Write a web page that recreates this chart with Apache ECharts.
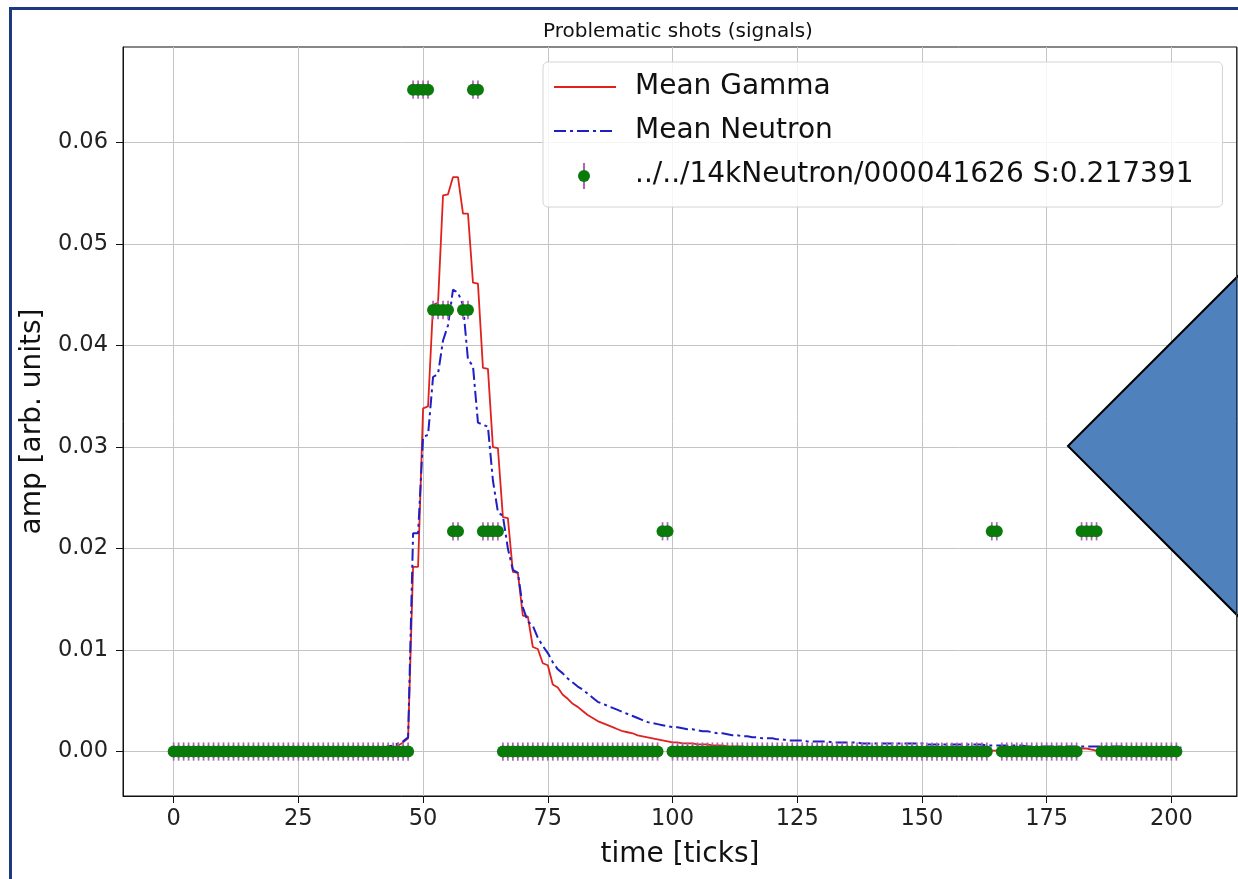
<!DOCTYPE html>
<html><head><meta charset="utf-8">
<script src="https://cdn.jsdelivr.net/npm/echarts@6/dist/echarts.min.js"></script>
<style>html,body{margin:0;padding:0;background:#fff}#c{width:1238px;height:879px}</style>
</head><body><div id="c"></div>
<script>
const chartTitle = 'Problematic shots (signals)';
const xAxisName = 'time [ticks]';
const yAxisName = 'amp [arb. units]';
const gammaName = 'Mean Gamma';
const neutronName = 'Mean Neutron';
const shotName = '../../14kNeutron/000041626 S:0.217391';
const xTickValues = [0, 25, 50, 75, 100, 125, 150, 175, 200];
const yTickValues = [0, 0.01, 0.02, 0.03, 0.04, 0.05, 0.06];

// mean gamma signal, one value per tick 0..202
const gammaMean = [
  0,0,0,0,0,0,0,0,0,0,
  0,0,0,0,0,0,0,0,0,0,
  0,0,0,0,0,0,0,0,0,0,
  0,0,0,0,0,0,0.0001,0.0001,0.0001,0.0001,
  0.0002,0.0002,0.0003,0.0003,0.0004,0.0006,0.0009,0.0013,0.0182,0.0182,
  0.0338,0.0340,0.0440,0.0442,0.0548,0.0549,0.0566,0.0566,0.0530,0.0530,
  0.0462,0.0461,0.0378,0.0377,0.0300,0.0299,0.0231,0.0230,0.0177,0.0176,
  0.0134,0.0133,0.0103,0.0101,0.0087,0.0085,0.0066,0.0063,0.0056,0.0052,
  0.0047,0.0044,0.0040,0.0036,0.0033,0.0030,0.0028,0.0026,0.0024,0.0022,
  0.0020,0.0019,0.0018,0.0016,0.0015,0.0014,0.0013,0.0012,0.0011,0.0010,
  0.0009,0.0009,0.0008,0.0008,0.0008,0.0007,0.0007,0.0007,0.0006,0.0006,
  0.0006,0.0005,0.0005,0.0005,0.0005,0.0004,0.0004,0.0004,0.0004,0.0004,
  0.0003,0.0003,0.0003,0.0003,0.0003,0.0003,0.0003,0.0003,0.0003,0.0003,
  0.0003,0.0003,0.0002,0.0002,0.0002,0.0002,0.0002,0.0002,0.0002,0.0002,
  0.0002,0.0002,0.0002,0.0002,0.0002,0.0002,0.0002,0.0002,0.0002,0.0002,
  0.0002,0.0002,0.0002,0.0002,0.0002,0.0002,0.0002,0.0002,0.0002,0.0002,
  0.0002,0.0002,0.0001,0.0001,0.0001,0.0001,0.0001,0.0001,0.0001,0.0001,
  0.0001,0.0001,0.0001,0.0001,0.0001,0.0001,0.0001,0.0001,0.0001,0.0001,
  0.0001,0.0002,0.0003,0.0003,0.0002,0.0001,0.0001,0.0001,0.0001,0.0001,
  0.0001,0.0001,0.0001,0.0001,0.0001,0.0001,0.0001,0.0001,0.0001,0.0001,
  0.0001,0.0001,0.0001
];

// mean neutron signal, one value per tick 0..202
const neutronMean = [
  0,0,0,0,0,0,0,0,0,0,
  0,0,0,0,0,0,0,0,0,0,
  0,0,0,0,0,0,0,0,0,0,
  0,0,0,0.0001,0.0001,0.0001,0.0001,0.0001,0.0002,0.0002,
  0.0002,0.0003,0.0004,0.0005,0.0006,0.0008,0.0010,0.0014,0.0215,0.0215,
  0.0310,0.0312,0.0369,0.0372,0.0405,0.0420,0.0455,0.0452,0.0440,0.0386,
  0.0380,0.0324,0.0322,0.0320,0.0267,0.0236,0.0232,0.0200,0.0179,0.0176,
  0.0142,0.0128,0.0124,0.0112,0.0104,0.0097,0.0088,0.0081,0.0077,0.0072,
  0.0068,0.0064,0.0061,0.0057,0.0053,0.0049,0.0047,0.0045,0.0043,0.0041,
  0.0039,0.0037,0.0035,0.0033,0.0031,0.0029,0.0028,0.0027,0.0026,0.0025,
  0.0024,0.0024,0.0023,0.0022,0.0022,0.0021,0.0020,0.0020,0.0019,0.0018,
  0.0018,0.0017,0.0016,0.0016,0.0015,0.0015,0.0014,0.0014,0.0013,0.0013,
  0.0013,0.0012,0.0012,0.0011,0.0011,0.0011,0.0011,0.0010,0.0010,0.0010,
  0.0010,0.0010,0.0009,0.0009,0.0009,0.0009,0.0009,0.0009,0.0008,0.0008,
  0.0008,0.0008,0.0008,0.0008,0.0008,0.0008,0.0008,0.0008,0.0008,0.0008,
  0.0008,0.0007,0.0007,0.0007,0.0007,0.0007,0.0007,0.0007,0.0007,0.0007,
  0.0007,0.0007,0.0007,0.0006,0.0006,0.0006,0.0006,0.0006,0.0006,0.0006,
  0.0006,0.0005,0.0005,0.0005,0.0005,0.0005,0.0005,0.0005,0.0005,0.0005,
  0.0005,0.0005,0.0005,0.0005,0.0005,0.0005,0.0005,0.0005,0.0005,0.0005,
  0.0005,0.0004,0.0004,0.0004,0.0004,0.0004,0.0004,0.0004,0.0004,0.0004,
  0.0004,0.0004,0.0004
];

// shot signal, one value per tick 0..201
const shotSignal = [
  0,0,0,0,0,0,0,0,0,0,
  0,0,0,0,0,0,0,0,0,0,
  0,0,0,0,0,0,0,0,0,0,
  0,0,0,0,0,0,0,0,0,0,
  0,0,0,0,0,0,0,0,0.0652,0.0652,
  0.0652,0.0652,0.0435,0.0435,0.0435,0.0435,0.0217,0.0217,0.0435,0.0435,
  0.0652,0.0652,0.0217,0.0217,0.0217,0.0217,0,0,0,0,
  0,0,0,0,0,0,0,0,0,0,
  0,0,0,0,0,0,0,0,0,0,
  0,0,0,0,0,0,0,0,0.0217,0.0217,
  0,0,0,0,0,0,0,0,0,0,
  0,0,0,0,0,0,0,0,0,0,
  0,0,0,0,0,0,0,0,0,0,
  0,0,0,0,0,0,0,0,0,0,
  0,0,0,0,0,0,0,0,0,0,
  0,0,0,0,0,0,0,0,0,0,
  0,0,0,0,0.0217,0.0217,0,0,0,0,
  0,0,0,0,0,0,0,0,0,0,
  0,0,0.0217,0.0217,0.0217,0.0217,0,0,0,0,
  0,0,0,0,0,0,0,0,0,0,
  0,0
];
const shotError = 0.0009;

const FONT = 'DejaVu Sans';
const RED = '#e0221f', BLUE = '#1f1fc4', GREEN = '#0a7a0a', ERR = '#b064b8';
const chart = echarts.init(document.getElementById('c'), null, {renderer: 'canvas'});

const axisCommon = {
  axisLine: {show: true, onZero: false, lineStyle: {color: '#111', width: 1}},
  axisTick: {show: true, inside: false, length: 7, lineStyle: {color: '#111', width: 1}},
  splitLine: {show: true, lineStyle: {color: '#c4c4c4', width: 1}},
  nameTextStyle: {fontFamily: FONT, fontSize: 28, color: '#111'},
};

chart.setOption({
  backgroundColor: '#fff',
  animation: false,
  title: {
    text: chartTitle, left: 538, top: 17,
    textStyle: {fontFamily: FONT, fontSize: 20, fontWeight: 'normal', color: '#111'}
  },
  grid: {left: 123, right: 1, top: 47, bottom: 83, show: true, borderColor: '#111', borderWidth: 1, containLabel: false},
  legend: {
    orient: 'vertical', left: 543, top: 62,
    data: [
      {name: gammaName, itemStyle: {opacity: 0}},
      {name: neutronName, itemStyle: {opacity: 0}},
      {name: shotName, itemStyle: {opacity: 0}}
    ],
    itemWidth: 62, itemHeight: 14, itemGap: 14,
    padding: [10, 29, 17, 10],
    backgroundColor: 'rgba(255,255,255,0.85)', borderColor: '#d4d4d4', borderWidth: 1, borderRadius: 5,
    textStyle: {fontFamily: FONT, fontSize: 28, color: '#111', lineHeight: 30, padding: [0, 0, 0, 14]}
  },
  xAxis: Object.assign({}, axisCommon, {
    type: 'value', min: -10.15, max: 213.15,
    name: xAxisName, nameLocation: 'middle', nameGap: 45,
    axisTick: Object.assign({}, axisCommon.axisTick, {customValues: xTickValues}),
    axisLabel: {customValues: xTickValues, fontFamily: FONT, fontSize: 22.5, color: '#222', margin: 12,
      formatter: v => String(v)}
  }),
  yAxis: Object.assign({}, axisCommon, {
    type: 'value', min: -0.00438, max: 0.06941,
    name: yAxisName, nameLocation: 'middle', nameGap: 66,
    axisTick: Object.assign({}, axisCommon.axisTick, {customValues: yTickValues}),
    axisLabel: {customValues: yTickValues, fontFamily: FONT, fontSize: 22.5, color: '#222', margin: 15,
      formatter: v => v.toFixed(2)}
  }),
  series: [
    {
      name: gammaName, type: 'line', symbol: 'none', z: 2,
      lineStyle: {color: RED, width: 1.8},
      itemStyle: {color: RED},
      data: gammaMean.map((v, i) => [i, v])
    },
    {
      name: neutronName, type: 'line', symbol: 'none', z: 2,
      lineStyle: {color: BLUE, width: 2, type: [12, 4, 3, 4]},
      itemStyle: {color: BLUE},
      data: neutronMean.map((v, i) => [i, v])
    },
    {
      name: 'shotErr', type: 'custom', z: 3, silent: true,
      renderItem: (params, api) => {
        const x = api.value(0), y = api.value(1), e = api.value(2);
        const a = api.coord([x, y + e]), b = api.coord([x, y - e]);
        return {type: 'line', shape: {x1: a[0], y1: a[1], x2: b[0], y2: b[1]},
          style: {stroke: ERR, lineWidth: 1.7}};
      },
      data: shotSignal.map((v, i) => [i, v, shotError])
    },
    {
      name: shotName, type: 'scatter', symbol: 'circle', symbolSize: 12, z: 4,
      itemStyle: {color: GREEN, opacity: 1},
      data: shotSignal.map((v, i) => [i, v])
    }
  ],
  graphic: [
    {type: 'rect', left: 8, top: 6, z: 100, silent: true,
      shape: {x: 0, y: 0, width: 1300, height: 1000},
      style: {fill: 'none', stroke: '#1c3a7e', lineWidth: 3}},
    // legend marker for the shot entry: error bar with dot
    {type: 'line', z: 100, silent: true,
      shape: {x1: 584, y1: 163, x2: 584, y2: 189},
      style: {stroke: ERR, lineWidth: 2}},
    {type: 'circle', z: 101, silent: true,
      shape: {cx: 584, cy: 176, r: 6},
      style: {fill: GREEN}},
    {type: 'polygon', z: 100, silent: true,
      shape: {points: [[1068, 446], [1240, 274], [1412, 446], [1240, 618]]},
      style: {fill: '#4f81bd', stroke: '#000', lineWidth: 2}},
    {type: 'line', z: 101, silent: true,
      shape: {x1: 1236.5, y1: 47, x2: 1236.5, y2: 796},
      style: {stroke: '#333', lineWidth: 1}}
  ]
});
</script></body></html>
